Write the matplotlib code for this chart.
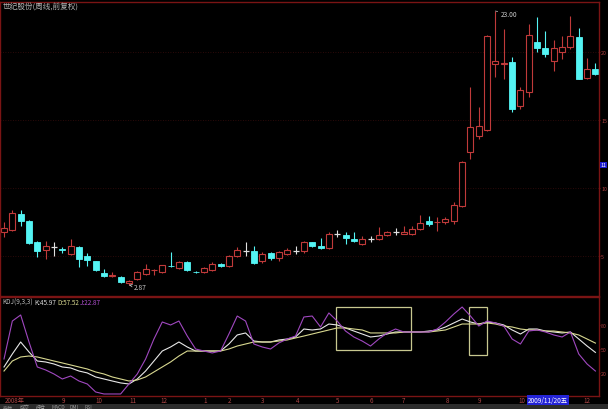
import matplotlib
matplotlib.use("Agg")
import matplotlib.pyplot as plt
from matplotlib.patches import Rectangle
import numpy as np

plt.rcParams['font.family'] = ['Noto Sans CJK SC', 'DejaVu Sans']

# weekly candles, Aug 2008 - Nov 2009 (forward adjusted)
opens = [6.76, 6.91, 8.09, 7.57, 6.03, 5.44, 5.66, 5.48, 5.15, 5.66, 5.00, 4.63,
         3.75, 3.53, 3.46, 3.02, 3.31, 3.68, 3.95, 3.83, 4.27, 4.12, 4.56, 3.85,
         3.83, 3.97, 4.41, 4.27, 5.00, 5.37, 5.37, 4.63, 5.22, 4.85, 5.15, 5.37,
         5.37, 6.03, 5.74, 5.59, 6.62, 6.54, 6.25, 5.88, 6.25, 6.25, 6.54, 6.76,
         6.62, 6.62, 6.98, 7.57, 7.48, 7.50, 7.57, 8.67, 12.64, 13.82, 14.26, 19.11,
         19.11, 19.26, 16.02, 17.05, 20.73, 20.28, 19.33, 19.99, 20.36, 21.09, 18.08, 18.74]
highs = [7.50, 8.38, 8.38, 7.65, 6.10, 6.10, 6.03, 5.66, 6.25, 5.70, 5.22, 4.66,
         4.05, 3.83, 3.53, 3.24, 3.90, 4.41, 4.05, 4.36, 5.29, 4.63, 4.63, 3.90,
         4.19, 4.56, 4.49, 5.07, 5.66, 6.03, 5.74, 5.29, 5.29, 5.37, 5.59, 5.74,
         6.10, 6.05, 6.32, 6.76, 6.91, 6.76, 6.76, 6.47, 6.47, 7.13, 6.84, 7.06,
         7.21, 7.21, 8.01, 7.94, 7.87, 7.87, 8.97, 11.98, 17.42, 15.95, 21.24, 23.00,
         21.68, 19.62, 17.42, 22.05, 22.56, 21.53, 20.87, 21.17, 22.64, 21.75, 19.55, 19.18]
lows = [6.40, 6.84, 7.21, 5.88, 4.93, 4.78, 5.00, 5.22, 5.07, 4.19, 4.27, 3.90,
        3.46, 3.46, 3.02, 2.87, 3.24, 3.60, 3.60, 3.75, 4.19, 4.05, 3.90, 3.75,
        3.75, 3.90, 4.19, 4.19, 4.93, 5.00, 4.41, 4.49, 4.71, 4.63, 5.07, 5.15,
        5.22, 5.66, 5.52, 5.52, 6.40, 5.88, 6.03, 5.81, 6.03, 6.18, 6.47, 6.54,
        6.62, 6.54, 6.91, 7.21, 6.84, 7.35, 7.35, 8.60, 12.13, 13.60, 14.20, 18.15,
        18.01, 15.58, 15.80, 16.68, 19.99, 19.62, 18.59, 19.48, 20.21, 18.01, 18.01, 18.30]
closes = [7.06, 8.16, 7.57, 5.96, 5.37, 5.74, 5.66, 5.44, 5.74, 4.78, 4.71, 3.97,
          3.53, 3.60, 3.09, 3.16, 3.83, 4.05, 3.99, 4.34, 4.25, 4.56, 3.97, 3.80,
          4.12, 4.41, 4.27, 5.00, 5.44, 5.37, 4.49, 5.15, 4.85, 5.29, 5.44, 5.37,
          6.03, 5.74, 5.59, 6.62, 6.62, 6.32, 6.10, 6.25, 6.25, 6.54, 6.76, 6.76,
          6.76, 6.98, 7.43, 7.35, 7.50, 7.72, 8.75, 11.91, 14.48, 14.55, 21.17, 19.33,
          19.15, 15.80, 17.20, 21.24, 20.28, 19.84, 20.28, 20.36, 21.17, 18.01, 18.74, 18.37]

# KDJ(9,3,3)
k_vals = [27.9, 44.0, 58.9, 46.5, 35.3, 34.1, 31.6, 27.9, 26.7, 22.9, 20.5, 15.5,
          13.0, 10.5, 8.1, 6.8, 13.0, 22.9, 35.3, 47.7, 52.7, 58.9, 52.7, 47.7,
          47.7, 47.7, 47.7, 56.4, 67.6, 70.1, 60.1, 58.9, 58.9, 61.4, 62.6, 65.1,
          75.0, 73.8, 75.0, 81.2, 80.0, 76.3, 72.5, 68.8, 65.1, 66.3, 68.8, 71.3,
          71.3, 71.3, 71.3, 72.5, 73.8, 77.5, 82.5, 87.4, 83.7, 81.2, 83.7, 82.5,
          80.0, 73.8, 68.8, 75.0, 75.0, 72.5, 71.3, 70.1, 71.3, 62.6, 53.9, 45.97]
d_vals = [22.9, 35.3, 40.3, 41.5, 40.3, 37.8, 35.3, 32.9, 30.4, 27.9, 25.4, 21.7,
          19.2, 15.5, 13.0, 10.5, 11.8, 15.5, 21.7, 27.9, 34.1, 41.5, 47.7, 47.7,
          47.7, 47.7, 47.7, 50.2, 53.9, 56.4, 58.9, 58.9, 58.9, 60.1, 61.4, 63.9,
          66.3, 68.8, 71.3, 73.8, 76.3, 76.3, 75.0, 73.8, 70.1, 70.1, 70.1, 70.1,
          71.3, 71.3, 71.3, 71.3, 72.5, 73.8, 77.5, 81.2, 81.2, 81.2, 82.5, 81.2,
          78.7, 77.5, 75.0, 73.8, 73.8, 72.5, 72.5, 71.3, 70.1, 67.6, 62.6, 57.52]
j_vals = [37.8, 84.9, 92.4, 58.9, 27.9, 24.2, 19.2, 13.0, 16.7, 10.5, 6.8, -3.1,
          -5.6, -5.6, -5.6, 6.8, 19.2, 37.8, 62.6, 83.7, 80.0, 84.9, 66.3, 50.2,
          47.7, 45.3, 47.7, 68.8, 91.1, 84.9, 56.4, 52.7, 50.2, 57.7, 62.6, 66.3,
          89.9, 91.1, 77.5, 94.9, 84.9, 72.5, 65.1, 60.1, 53.9, 62.6, 70.1, 75.0,
          71.3, 71.3, 71.3, 71.3, 75.0, 83.7, 93.6, 102.3, 91.1, 78.7, 84.9, 82.5,
          78.7, 62.6, 56.4, 72.5, 73.8, 71.3, 67.6, 65.1, 71.3, 44.0, 31.6, 22.87]

month_pos = [0.1, 7.1, 11.4, 15.5, 19.2, 24.1, 27.1, 31.1, 35.2, 40.0, 44.1, 48.0,
             53.2, 57.1, 62.2, 70.0]
month_labels = ["2008年", "9", "10", "11", "12", "1", "2", "3", "4", "5", "6", "7",
                "8", "9", "10", "12"]

price_ticks = [5, 10, 15, 20]
kdj_ticks = [20, 50, 80]

# hand-drawn boxes on the KDJ panel: (x0, x1, y0, y1)
boxes = [(39.9, 48.9, 49.0, 102.3), (55.8, 58.0, 42.8, 102.3)]

BG = "black"
FRAME = "#7a1414"
RED = "#c03a3a"
CYAN = "#54f4f4"
W, H = 608, 410

fig = plt.figure(figsize=(W / 100, H / 100), dpi=100, facecolor=BG)

x = np.arange(len(opens))
o = np.array(opens); c = np.array(closes)
hi = np.array(highs); lo = np.array(lows)
up = c > o
down = c < o
flat = c == o

# ---------------------------
# price panel
# ---------------------------
ax = fig.add_axes([0, 1 - 297 / H, 599 / W, 294 / H], facecolor=BG)
for p in price_ticks:
    ax.axhline(p, color="#3a0c0c", lw=0.6, ls=(0, (1, 2)), zorder=0)

ax.vlines(x[up], lo[up], hi[up], color=RED, lw=0.8, zorder=1)
ax.vlines(x[down], lo[down], hi[down], color=CYAN, lw=0.8, zorder=1)
ax.vlines(x[flat], lo[flat], hi[flat], color="#e0e0e0", lw=0.8, zorder=1)
ax.bar(x[up], c[up] - o[up], bottom=o[up], width=0.72,
       facecolor=BG, edgecolor=RED, lw=0.8, zorder=2)
ax.bar(x[down], o[down] - c[down], bottom=c[down], width=0.72,
       facecolor=CYAN, edgecolor=CYAN, lw=0.6, zorder=2)
ax.hlines(c[flat], x[flat] - 0.36, x[flat] + 0.36, color="#e0e0e0", lw=0.9, zorder=2)

imax = int(np.argmax(hi)); imin = int(np.argmin(lo))
ax.annotate(f"{hi[imax]:.2f}", xy=(imax, hi[imax]), xytext=(imax + 0.6, hi[imax] - 0.25),
            color="#c8c8c8", fontsize=4.8, va="center", ha="left",
            arrowprops=dict(arrowstyle="-", color="#c8c8c8", lw=0.5))
ax.annotate(f"{lo[imin]:.2f}", xy=(imin, lo[imin]), xytext=(imin + 0.6, lo[imin] - 0.15),
            color="#c8c8c8", fontsize=4.8, va="center", ha="left",
            arrowprops=dict(arrowstyle="->", color="#c8c8c8", lw=0.5))

ax.set_xlim(-0.48, 71.43)
ax.set_ylim(2.06, 23.66)
ax.set_xticks([])
ax.yaxis.tick_right()
ax.set_yticks(price_ticks)
ax.tick_params(axis="y", colors=FRAME, labelcolor="#b04040", labelsize=3.8,
               length=1, pad=0.5)
for s in ax.spines.values():
    s.set_color(FRAME)
    s.set_linewidth(1)
ax.text(1.003, 11.7, "11", transform=ax.get_yaxis_transform(), color="white",
        fontsize=3.8, va="center", ha="left", clip_on=False,
        bbox=dict(boxstyle="square,pad=0.1", fc="#1c1cd0", ec="none"))

fig.text(3 / W, 1 - 8 / H, "世纪股份(周线,前复权)", color="#b4b4b4",
         fontsize=5.5, va="center", ha="left")

# ---------------------------
# KDJ panel
# ---------------------------
ax2 = fig.add_axes([0, 1 - 397 / H, 599 / W, 99 / H], facecolor=BG)
ax2.plot(x, k_vals, color="#e8e8e8", lw=0.8)
ax2.plot(x, d_vals, color="#d8d890", lw=0.8)
ax2.plot(x, j_vals, color="#a048c0", lw=0.8)
for x0, x1, y0, y1 in boxes:
    ax2.add_patch(Rectangle((x0, y0), x1 - x0, y1 - y0, fill=False,
                            ec="#c8c890", lw=0.9))
ax2.set_xlim(-0.48, 71.43)
ax2.set_ylim(-8.1, 114.7)
ax2.set_xticks([])
ax2.yaxis.tick_right()
ax2.set_yticks(kdj_ticks)
ax2.tick_params(axis="y", colors=FRAME, labelcolor="#b04040", labelsize=3.8,
                length=1, pad=0.5)
for s in ax2.spines.values():
    s.set_color(FRAME)
    s.set_linewidth(1)

tx = 2 / W
ty = 1 - 303 / H
for label, col, dx in [("KDJ(9,3,3)", "#bcbcbc", 0), (f"K:{k_vals[-1]:.2f}", "#d8d8d8", 32),
                       (f"D:{d_vals[-1]:.2f}", "#d8d890", 55), (f"J:{j_vals[-1]:.2f}", "#b050d0", 78)]:
    fig.text(tx + dx / W, ty, label, color=col, fontsize=4.6, va="center", ha="left")

# ---------------------------
# date strip and bottom tabs
# ---------------------------
def x_to_fig(i):
    return (i + 0.48) / (71.43 + 0.48) * (599 / W)

for pos, lab in zip(month_pos, month_labels):
    ha = "left" if lab.endswith("年") else "center"
    fig.text(x_to_fig(pos), 1 - 401 / H, lab, color="#b04848", fontsize=4.5,
             va="center", ha=ha)
fig.text(528 / W, 1 - 401 / H, "2009/11/20五", color="white", fontsize=4.6,
         va="center", ha="left",
         bbox=dict(boxstyle="square,pad=0.15", fc="#2424d8", ec="none"))

fig.patches.append(Rectangle((0, 0), 1, 5 / H, transform=fig.transFigure,
                             fc="#2c2c2c", ec="none"))
for xpx, lab in [(3, "指标"), (20, "成交"), (36, "持仓"), (52, "MACD"), (70, "DMI"), (84, "RSI")]:
    fig.text(xpx / W, 2.5 / H, lab, color="#9a9a9a", fontsize=3.6, va="center", ha="left")

fig.savefig("out.png", dpi=100, facecolor=BG)
